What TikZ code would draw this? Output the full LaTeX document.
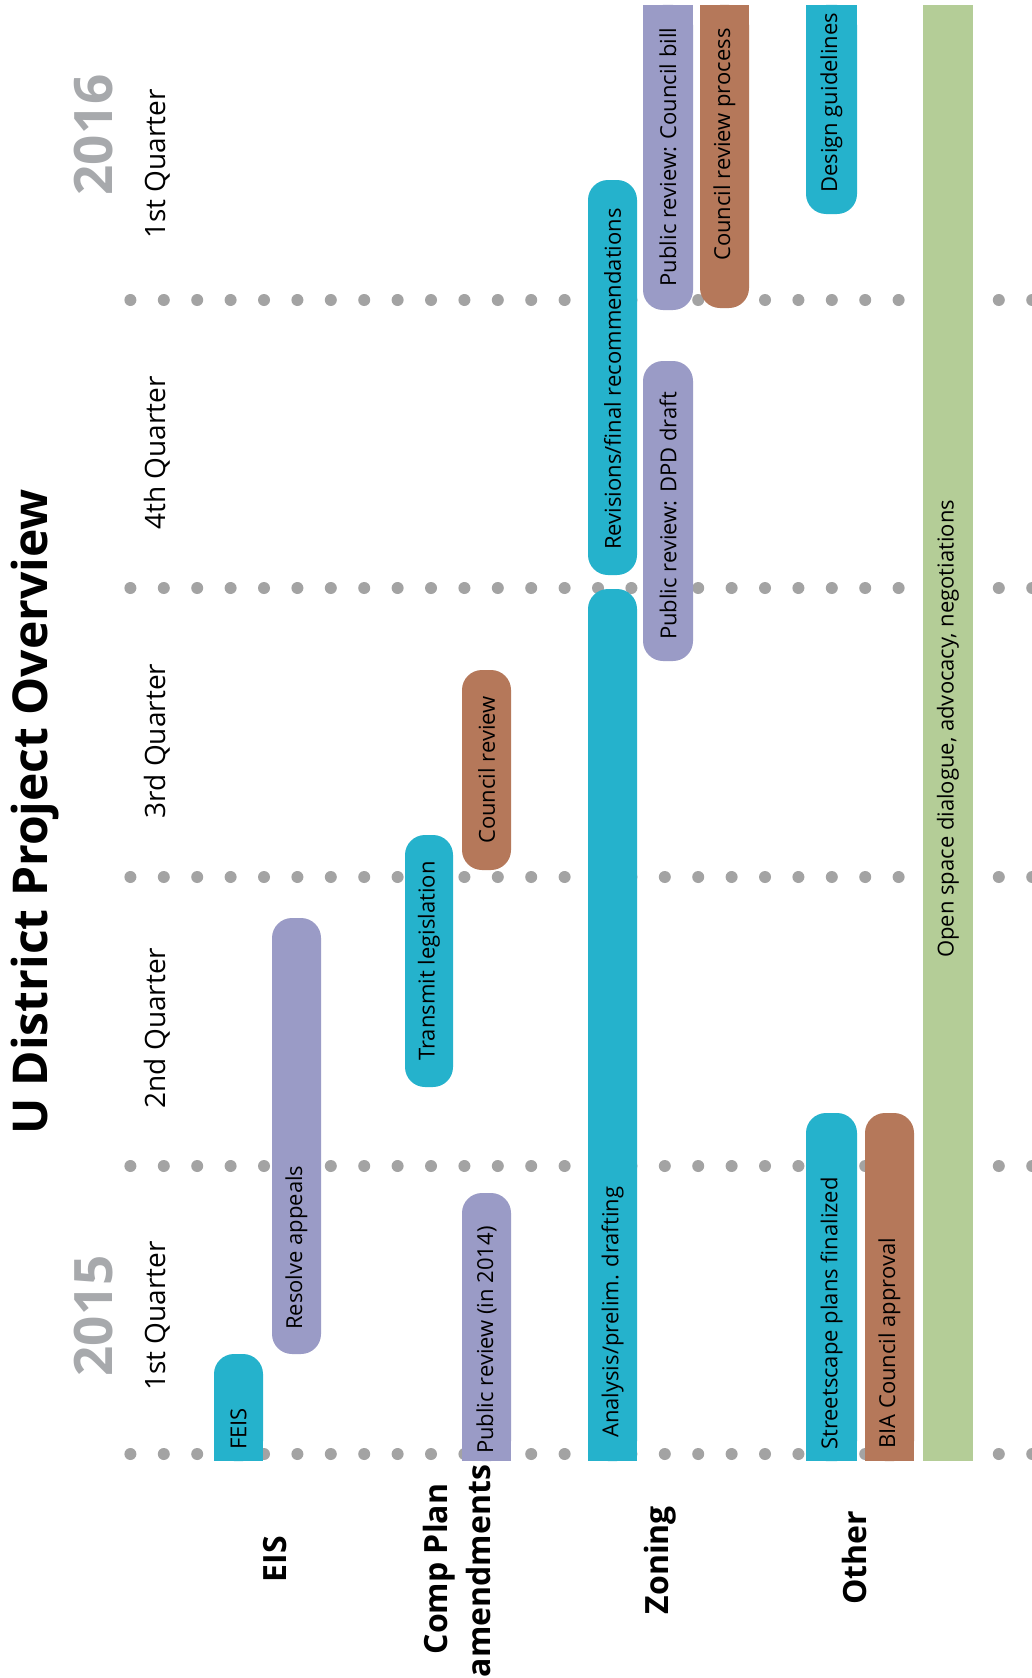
\documentclass[tikz,border=0pt]{standalone}
\usepackage{fontspec}
\setmainfont{Open Sans}
\definecolor{ucyan}{RGB}{37,178,204}
\definecolor{upurple}{RGB}{154,155,198}
\definecolor{ubrown}{RGB}{181,120,90}
\definecolor{ugreen}{RGB}{180,205,151}
\definecolor{dotgray}{RGB}{163,163,163}
\definecolor{yeargray}{RGB}{167,169,172}

\begin{document}
\begin{tikzpicture}[x=1pt, y=-1pt,
    bartext/.style={rotate=90, inner sep=0pt, font=\fontsize{22}{26}\selectfont},
    quarter/.style={rotate=90, anchor=base, inner sep=0pt, font=\fontsize{28}{34}\selectfont},
    yearlab/.style={rotate=90, anchor=base, inner sep=0pt, text=yeargray, font=\bfseries\fontsize{53}{60}\selectfont},
    rowlab/.style={rotate=90, anchor=base, inner sep=0pt, font=\bfseries\fontsize{32}{40}\selectfont},
    cyanbar/.style={fill=ucyan},
    purplebar/.style={fill=upurple},
    brownbar/.style={fill=ubrown},
    greenbar/.style={fill=ugreen}
]
    \path[use as bounding box, fill=white] (0,0) rectangle (1032,1678);

    % quarter separators
    \foreach \r in {300,588,877,1166,1454}
        \foreach \k in {0,...,27}
            \fill[dotgray] ({130.4+33.4*\k},\r) circle (6pt);

    % headings
    \node[rotate=90, anchor=base, inner sep=0pt, font=\bfseries\fontsize{48}{56}\selectfont] (title) at (47,812) {U District Project Overview};
    \node[yearlab] (y2015) at (112,1316) {2015};
    \node[yearlab] (y2016) at (112,135) {2016};
    \node[quarter] (q1a) at (165,1316) {1st Quarter};
    \node[quarter] (q2) at (165,1028) {2nd Quarter};
    \node[quarter] (q3) at (165,741) {3rd Quarter};
    \node[quarter] (q4) at (165,453) {4th Quarter};
    \node[quarter] (q1b) at (165,164) {1st Quarter};

    \node[rowlab] (eis) at (286,1559) {EIS};
    \node[rowlab] (comp) at (447,1569) {Comp Plan};
    \node[rowlab] (amend) at (490,1571) {amendments};
    \node[rowlab] (zoning) at (668,1560) {Zoning};
    \node[rowlab] (other) at (866,1558) {Other};

    % EIS
    \fill[cyanbar, rounded corners=20pt] (214,1354) rectangle (263,1461);
    \fill[cyanbar] (214,1400) rectangle (263,1461);
    \node[bartext, anchor=west] (feis) at (238.5,1450) {FEIS};
    \fill[purplebar, rounded corners=20pt] (272,918) rectangle (321,1354);
    \node[bartext, anchor=west] (appeals) at (296.5,1330) {Resolve appeals};

    % Comp Plan amendments
    \fill[purplebar, rounded corners=20pt] (462,1193) rectangle (511,1461);
    \fill[purplebar] (462,1300) rectangle (511,1461);
    \node[bartext, anchor=west] (prev) at (486.5,1454) {Public review (in 2014)};
    \fill[cyanbar, rounded corners=20pt] (405,835) rectangle (453,1087);
    \node[bartext] (transmit) at (429,961) {Transmit legislation};
    \fill[brownbar, rounded corners=20pt] (462,670) rectangle (511,870);
    \node[bartext] (ccrev) at (486.5,770) {Council review};

    % Zoning
    \fill[cyanbar, rounded corners=20pt] (588,589) rectangle (637,1461);
    \fill[cyanbar] (588,1000) rectangle (637,1461);
    \node[bartext, anchor=west] (analysis) at (612.5,1438) {Analysis/prelim. drafting};
    \fill[cyanbar, rounded corners=20pt] (588,180) rectangle (637,575);
    \node[bartext] (revisions) at (612.5,379) {Revisions/final recommendations};
    \fill[purplebar, rounded corners=20pt] (643,361) rectangle (693,661);
    \node[bartext, anchor=west] (dpd) at (668,640) {Public review: DPD draft};
    \fill[purplebar, rounded corners=20pt] (643,5) rectangle (693,310);
    \fill[purplebar] (643,5) rectangle (693,150);
    \node[bartext] (cbill) at (668,157) {Public review: Council bill};
    \fill[brownbar, rounded corners=20pt] (700,5) rectangle (749,308);
    \fill[brownbar] (700,5) rectangle (749,150);
    \node[bartext, anchor=west] (crevproc) at (724.5,261) {Council review process};

    % Other
    \fill[cyanbar, rounded corners=20pt] (806,5) rectangle (857,214);
    \fill[cyanbar] (806,5) rectangle (857,100);
    \node[bartext, anchor=west] (design) at (831.5,193) {Design guidelines};
    \fill[cyanbar, rounded corners=20pt] (806,1113) rectangle (857,1461);
    \fill[cyanbar] (806,1250) rectangle (857,1461);
    \node[bartext, anchor=west] (street) at (831.5,1450) {Streetscape plans finalized};
    \fill[brownbar, rounded corners=20pt] (865,1113) rectangle (914,1461);
    \fill[brownbar] (865,1250) rectangle (914,1461);
    \node[bartext, anchor=west] (bia) at (889.5,1449) {BIA Council approval};
    \fill[greenbar] (923,5) rectangle (973,1461);
    \node[bartext, anchor=west] (openspace) at (948,958) {Open space dialogue, advocacy, negotiations};

\end{tikzpicture}
\end{document}
